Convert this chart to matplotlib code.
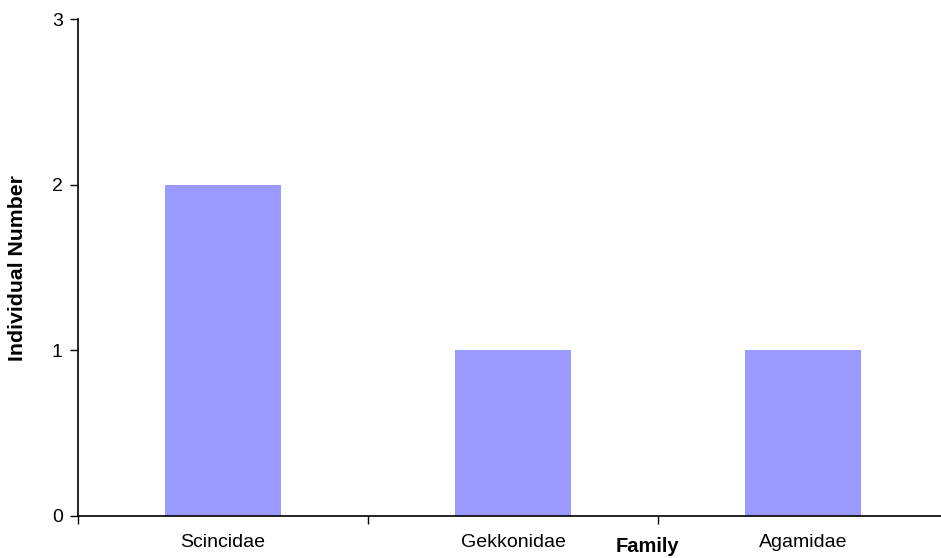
import matplotlib
matplotlib.use("Agg")
import matplotlib.pyplot as plt
import numpy as np

families = ["Scincidae", "Gekkonidae", "Agamidae"]
counts = [2, 1, 1]
y_ticks = [0, 1, 2, 3]

plt.rcParams["font.family"] = ["Liberation Sans", "DejaVu Sans"]

fig = plt.figure(figsize=(9.41, 5.58), dpi=100)
# the category axis runs a little past the right edge of the figure
ax = fig.add_axes([0.0829, 0.0753, 870 / 941, 0.8906])

x = np.arange(len(families)) + 0.5
ax.bar(x, counts, width=0.40, color="#9999FF", edgecolor="none", zorder=2)

ax.set_xlim(0, len(families))
ax.set_ylim(0, 3)
ax.set_yticks(y_ticks)
ax.set_yticklabels([str(v) for v in y_ticks], fontsize=14)

# category labels sit between the boundary ticks
ax.set_xticks(np.arange(len(families) + 1))
ax.set_xticklabels([])
ax.set_xticks(x, minor=True)
ax.set_xticklabels(families, minor=True, fontsize=14)
ax.tick_params(axis="x", which="major", direction="out", length=6, width=1)
ax.tick_params(axis="x", which="minor", length=0, pad=13)
ax.tick_params(axis="y", direction="out", length=6, width=1, pad=5)

for side in ("top", "right"):
    ax.spines[side].set_visible(False)
for side in ("left", "bottom"):
    ax.spines[side].set_linewidth(1.2)
    ax.spines[side].set_color("black")

fig.text(647 / 941, 1 - 546 / 558, "Family", fontsize=14.5, fontweight="bold",
         ha="center", va="center")
fig.text(18 / 941, 1 - 268 / 558, "Individual Number", fontsize=15.3,
         fontweight="bold", rotation=90, ha="center", va="center")

fig.savefig("out.png", dpi=100)
